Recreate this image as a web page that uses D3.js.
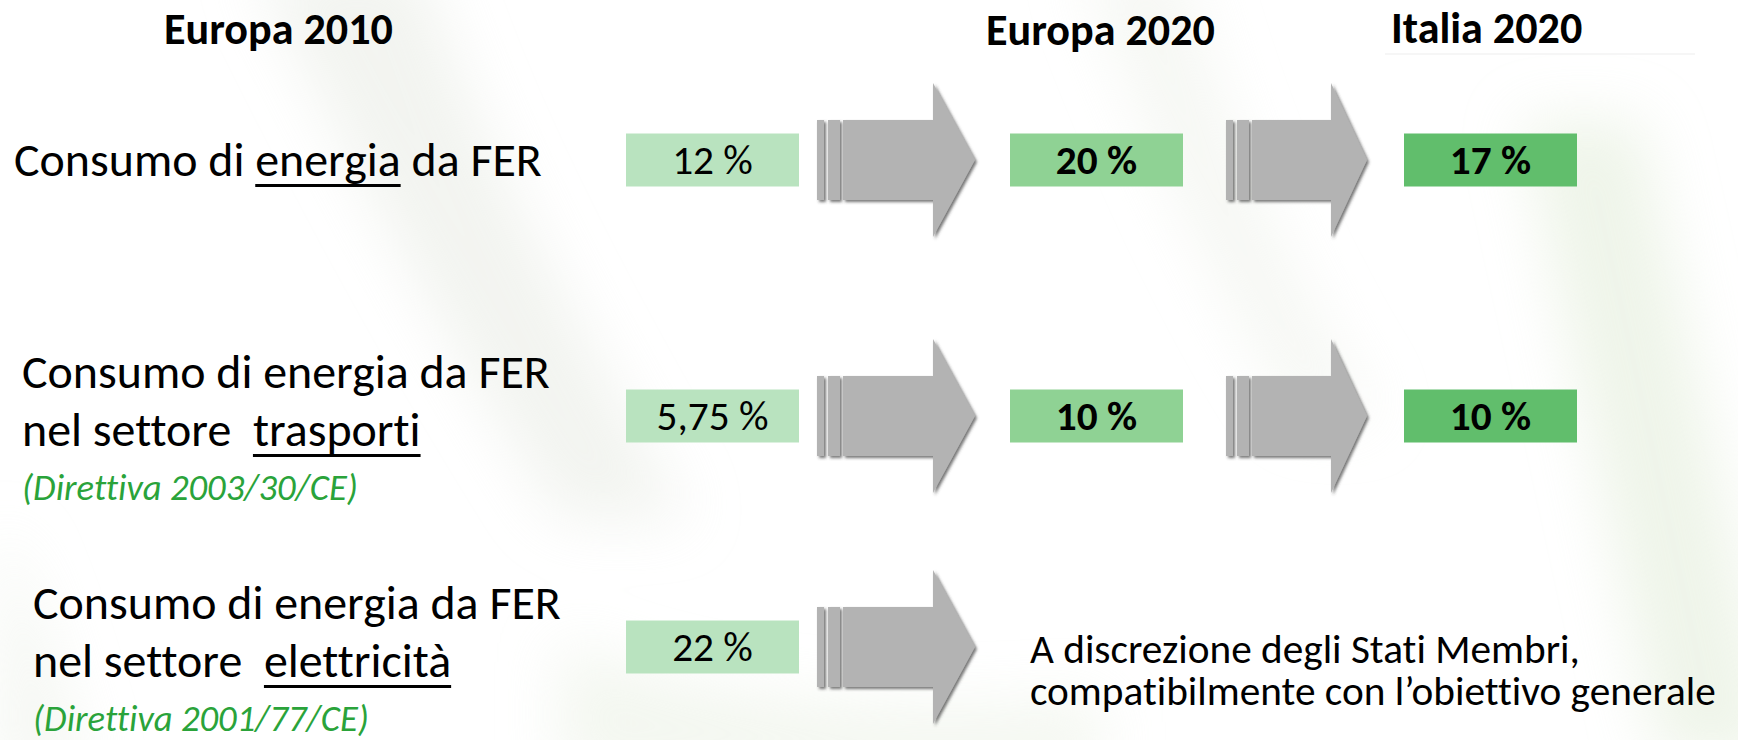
<!DOCTYPE html>
<html lang="it">
<head>
<meta charset="utf-8">
<title>Obiettivi FER</title>
<script src="https://cdnjs.cloudflare.com/ajax/libs/d3/7.8.5/d3.min.js"></script>
<style>
  body { margin:0; background:#fff; }
  svg text { font-family: Carlito, Calibri, Lato, sans-serif; white-space: pre;
             font-variant-ligatures: none; font-feature-settings: "liga" 0, "clig" 0; }
</style>
</head>
<body>
<svg id="chart" width="1738" height="740"></svg>
<script>
// data
var rows = ["energia", "trasporti", "elettricità"];
var cols = ["Europa 2010", "Europa 2020", "Italia 2020"];
var europa2010 = [12, 5.75, 22];
var europa2020 = [20, 10, null];
var italia2020 = [17, 10, null];
var labelFirst = ["Consumo di ", "Consumo di energia da FER", "Consumo di energia da FER"];
var labelUnder1 = ["energia", null, null];
var labelRest1 = [" da FER", null, null];
var labelSecond = [null, "nel settore  ", "nel settore  "];
var sectors = [null, "trasporti", "elettricità"];
var directives = [null, "(Direttiva 2003/30/CE)", "(Direttiva 2001/77/CE)"];
var noteLines = ["A discrezione degli Stati Membri,", "compatibilmente con l’obiettivo generale"];

var svg = d3.select("#chart");

var it = d3.formatLocale({decimal: ",", thousands: ".", grouping: [3], currency: ["€", ""]});
var fmt = function(v) { return (Number.isInteger(v) ? it.format("d")(v) : it.format(",.2f")(v)) + " %"; };

// scales
var y = d3.scaleOrdinal().domain(rows).range([160, 416, 647]);
var x = d3.scaleOrdinal().domain(cols).range([626, 1010, 1404]);
var color = d3.scaleOrdinal().domain(cols).range(["#b9e3bf", "#8fd294", "#61be6c"]);
var boxW = 173, boxH = 53;

// font size that gives a target width
function fitSize(str, weight, style, target) {
  var t = svg.append("text").attr("font-size", 100).attr("font-weight", weight)
    .attr("font-style", style).text(str);
  var l = t.node().getComputedTextLength();
  t.remove();
  return 100 * target / l;
}
var fsTitle = fitSize("Europa 2010", "bold", "normal", 229);
var fsLabel = fitSize("Consumo di energia da FER", "normal", "normal", 528);
var fsDir = fitSize("(Direttiva 2003/30/CE)", "normal", "italic", 336);
var fsBox = fitSize("5,75 %", "normal", "normal", 112);
var fsNote = fitSize(noteLines[1], "normal", "normal", 686);

// background swooshes
var defs = svg.append("defs");
defs.append("filter").attr("id", "blur").attr("x", "-50%").attr("y", "-50%").attr("width", "200%").attr("height", "200%")
  .append("feGaussianBlur").attr("stdDeviation", 30);
var sh = defs.append("filter").attr("id", "shadow").attr("x", "-20%").attr("y", "-20%").attr("width", "140%").attr("height", "140%");
sh.append("feDropShadow").attr("dx", 2).attr("dy", 2).attr("stdDeviation", 1.6)
  .attr("flood-color", "#3a3a3a").attr("flood-opacity", 0.7);

var bg = svg.append("g").attr("filter", "url(#blur)").attr("opacity", 0.6);
bg.append("path").attr("d", "M250,-40 C330,120 420,300 560,520 L690,520 C560,300 470,120 420,-40 Z").attr("fill", "#eaede6");
bg.append("path").attr("d", "M1080,-40 C1150,150 1220,300 1300,420 L1380,420 C1300,300 1230,150 1180,-40 Z").attr("fill", "#f0f3ec");
bg.append("path").attr("d", "M1520,120 C1560,300 1600,480 1660,760 L1780,760 C1720,480 1680,300 1640,120 Z").attr("fill", "#e4eedb");
bg.append("path").attr("d", "M560,640 C700,700 900,720 1100,700 L1100,780 L560,780 Z").attr("fill", "#ecf2e6");
bg.append("path").attr("d", "M0,520 C40,600 60,680 90,780 L0,780 Z").attr("fill", "#eef2ea");

// titles
var titleX = [164, 986, 1391], titleY = [44, 45, 43];
svg.selectAll(".title").data(cols).join("text").attr("class", "title")
  .attr("x", function(d, i) { return titleX[i]; })
  .attr("y", function(d, i) { return titleY[i]; })
  .attr("font-size", fsTitle).attr("font-weight", "bold").attr("fill", "#000")
  .text(function(d) { return d; });
svg.append("line").attr("x1", 1385).attr("x2", 1695).attr("y1", 54).attr("y2", 54)
  .attr("stroke", "#f3f3f3").attr("stroke-width", 1.5);

// row labels
var labelX = [14, 22, 33];
var under = [];
rows.forEach(function(r, i) {
  var cy = y(r);
  if (labelUnder1[i]) {
    var t = svg.append("text").attr("x", labelX[i]).attr("y", cy + 16).attr("font-size", fsLabel).attr("fill", "#000");
    t.append("tspan").text(labelFirst[i]);
    var u = t.append("tspan").text(labelUnder1[i]);
    t.append("tspan").text(labelRest1[i]);
    under.push({node: u.node(), y: cy + 16});
  } else {
    svg.append("text").attr("x", labelX[i]).attr("y", cy - 28).attr("font-size", fsLabel).attr("fill", "#000")
      .text(labelFirst[i]);
    var t2 = svg.append("text").attr("x", labelX[i]).attr("y", cy + 30).attr("font-size", fsLabel).attr("fill", "#000");
    t2.append("tspan").text(labelSecond[i]);
    var u2 = t2.append("tspan").text(sectors[i]);
    under.push({node: u2.node(), y: cy + 30});
    svg.append("text").attr("x", labelX[i]).attr("y", cy + 84).attr("font-size", fsDir)
      .attr("font-style", "italic").attr("fill", "#2aa33a").text(directives[i]);
  }
});
under.forEach(function(u) {
  var b = u.node.getBBox();
  svg.append("rect").attr("x", b.x).attr("y", u.y + 8).attr("width", b.width).attr("height", 3).attr("fill", "#000");
});

// arrows
var arrowCols = [{x0: 817, head: 933, tip: 975}, {x0: 1226, head: 1331, tip: 1367}];
function arrow(a, cy) {
  var g = svg.append("g").attr("filter", "url(#shadow)");
  g.append("rect").attr("x", a.x0).attr("y", cy - 40).attr("width", 7).attr("height", 80).attr("fill", "#b3b3b3");
  g.append("rect").attr("x", a.x0 + 11).attr("y", cy - 40).attr("width", 12).attr("height", 80).attr("fill", "#b3b3b3");
  var pts = [[a.x0 + 26, cy - 40], [a.head, cy - 40], [a.head, cy - 77], [a.tip, cy],
             [a.head, cy + 77], [a.head, cy + 40], [a.x0 + 26, cy + 40]];
  g.append("path").attr("d", d3.line()(pts) + "Z").attr("fill", "#b3b3b3");
}
rows.forEach(function(r, i) {
  arrow(arrowCols[0], y(r));
  if (italia2020[i] != null) arrow(arrowCols[1], y(r));
});

// boxes
var series = [europa2010, europa2020, italia2020];
cols.forEach(function(c, j) {
  var vals = rows.map(function(r, i) { return {row: r, v: series[j][i]}; })
    .filter(function(d) { return d.v != null; });
  var g = svg.append("g");
  g.selectAll("rect").data(vals).join("rect")
    .attr("x", x(c)).attr("y", function(d) { return y(d.row) - boxH / 2; })
    .attr("width", boxW).attr("height", boxH).attr("fill", color(c));
  g.selectAll("text").data(vals).join("text")
    .attr("x", x(c) + boxW / 2).attr("y", function(d) { return y(d.row) + fsBox * 0.34; })
    .attr("text-anchor", "middle").attr("font-size", fsBox)
    .attr("font-weight", j === 0 ? "normal" : "bold").attr("fill", "#000")
    .text(function(d) { return fmt(d.v); });
});

// note for the last row (one text block, two lines)
var cy3 = y(rows[2]);
svg.append("text").attr("class", "note").attr("font-size", fsNote).attr("fill", "#000")
  .selectAll("tspan").data(noteLines).join("tspan")
  .attr("x", 1030).attr("y", function(d, i) { return cy3 + 16 + i * 42; })
  .text(function(d) { return d; });
</script>
</body>
</html>
